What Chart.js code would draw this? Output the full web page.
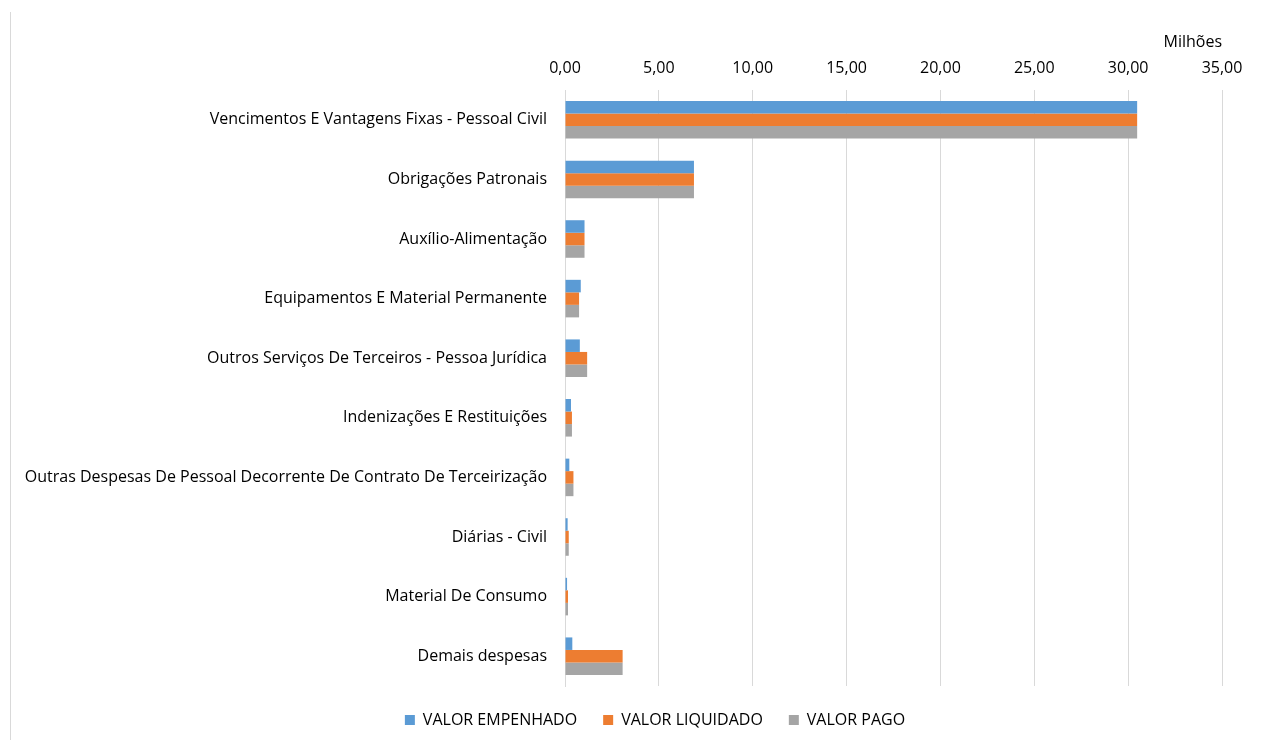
<!DOCTYPE html>
<html>
<head>
<meta charset="utf-8">
<script src="https://cdn.jsdelivr.net/npm/chart.js@4.4.0/dist/chart.umd.min.js"></script>
<style>
  html, body { margin: 0; padding: 0; background: #fff; }
  #wrap { width: 1284px; height: 740px; position: relative; }
</style>
</head>
<body>
<div id="wrap"><canvas id="chart"></canvas></div>
<script>
const categories = [
  'Vencimentos E Vantagens Fixas - Pessoal Civil',
  'Obrigações Patronais',
  'Auxílio-Alimentação',
  'Equipamentos E Material Permanente',
  'Outros Serviços De Terceiros - Pessoa Jurídica',
  'Indenizações E Restituições',
  'Outras Despesas De Pessoal Decorrente De Contrato De Terceirização',
  'Diárias - Civil',
  'Material De Consumo',
  'Demais despesas'
];

// values in millions
const valorEmpenhado = [30.48, 6.87, 1.04, 0.84, 0.79, 0.32, 0.23, 0.14, 0.11, 0.39];
const valorLiquidado = [30.48, 6.87, 1.04, 0.75, 1.18, 0.37, 0.45, 0.20, 0.16, 3.07];
const valorPago = [30.48, 6.87, 1.04, 0.75, 1.18, 0.37, 0.45, 0.20, 0.16, 3.07];

const xTicks = [0, 5, 10, 15, 20, 25, 30, 35];

const fontFamily = "'Open Sans', 'Noto Sans', sans-serif";

// thin frame line on the left + shift legend so it is centred like the original
const framePlugin = {
  id: 'framePlugin',
  afterLayout(chart) {
    if (chart.legend) {
      chart.legend.left = 88;
      chart.legend.right = 1222;
    }
  },
  beforeDraw(chart) {
    const ctx = chart.ctx;
    ctx.save();
    ctx.strokeStyle = '#d9d9d9';
    ctx.lineWidth = 1;
    ctx.beginPath();
    ctx.moveTo(10.5, 12);
    ctx.lineTo(10.5, 740);
    ctx.stroke();
    ctx.restore();
  }
};

new Chart(document.getElementById('chart'), {
  type: 'bar',
  data: {
    labels: categories,
    datasets: [
      { label: 'VALOR EMPENHADO', data: valorEmpenhado, backgroundColor: '#5B9BD5' },
      { label: 'VALOR LIQUIDADO', data: valorLiquidado, backgroundColor: '#ED7D31' },
      { label: 'VALOR PAGO', data: valorPago, backgroundColor: '#A5A5A5' }
    ]
  },
  plugins: [framePlugin],
  options: {
    indexAxis: 'y',
    responsive: true,
    maintainAspectRatio: false,
    animation: false,
    layout: { padding: { left: 0, right: 62, top: 0, bottom: 2 } },
    datasets: {
      bar: { categoryPercentage: 0.63, barPercentage: 1.0 }
    },
    plugins: {
      legend: {
        position: 'bottom',
        labels: {
          boxWidth: 10,
          boxHeight: 10,
          padding: 26,
          color: '#000',
          font: { family: fontFamily, size: 16 }
        }
      },
      tooltip: { enabled: false }
    },
    scales: {
      x: {
        position: 'top',
        min: 0,
        max: 35,
        afterBuildTicks(scale) {
          scale.ticks = xTicks.map(v => ({ value: v }));
        },
        afterFit(scale) { scale.height = 90; },
        ticks: {
          color: '#000',
          padding: 12,
          font: { family: fontFamily, size: 16 },
          callback: v => Number(v).toFixed(2).replace('.', ',')
        },
        grid: { color: '#d9d9d9', drawTicks: false },
        border: { display: false },
        title: {
          display: true,
          text: 'Milhões',
          align: 'end',
          color: '#000',
          padding: { top: 33, bottom: 0 },
          font: { family: fontFamily, size: 16 }
        }
      },
      y: {
        afterFit(scale) { scale.width = 565; },
        ticks: {
          color: '#000',
          padding: 18,
          font: { family: fontFamily, size: 16 }
        },
        grid: { display: false, drawTicks: false },
        border: { display: true, color: '#d9d9d9' }
      }
    }
  }
});
</script>
</body>
</html>
